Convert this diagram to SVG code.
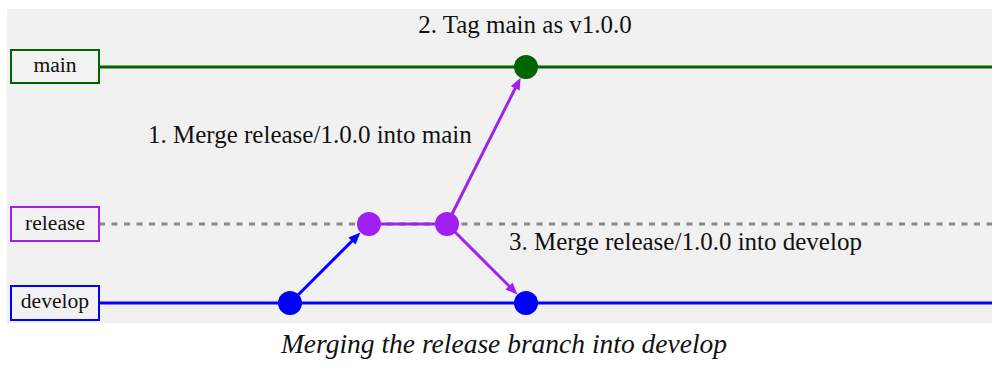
<svg xmlns="http://www.w3.org/2000/svg" width="992" height="368" viewBox="0 0 992 368">
<style>
  .lbl { font-family: "Liberation Serif", "Times New Roman", serif; font-size: 21.6px; fill: #111; text-anchor: middle; }
  .note { font-family: "Liberation Serif", "Times New Roman", serif; font-size: 25px; fill: #111; }
  .cap { font-family: "Liberation Serif", "Times New Roman", serif; font-size: 27.5px; font-style: italic; fill: #111; text-anchor: middle; }
  .box { fill: #f2f2f2; stroke-width: 2; }
  .branch { fill: none; stroke-width: 3; }
  .conn { fill: none; stroke-width: 3; }
</style>
<defs>
  <marker id="ahBlue" markerUnits="userSpaceOnUse" markerWidth="12" markerHeight="10" refX="4" refY="5" orient="auto">
    <path d="M0,0 L12,5 L0,10 z" fill="#0000ff"/>
  </marker>
  <marker id="ahPurple" markerUnits="userSpaceOnUse" markerWidth="12" markerHeight="10" refX="4" refY="5" orient="auto">
    <path d="M0,0 L12,5 L0,10 z" fill="#a020f0"/>
  </marker>
</defs>
<rect x="7" y="9" width="985" height="314" fill="#f1f1f1"/>

<g id="branches">
  <line class="branch" x1="99" y1="67" x2="992" y2="67" stroke="#006400"/>
  <line class="branch" x1="99" y1="224" x2="992" y2="224" stroke="#888888" stroke-dasharray="6 6.5"/>
  <line class="branch" x1="99" y1="303" x2="992" y2="303" stroke="#0000ff"/>
</g>

<g id="label-main">
  <rect class="box" x="11" y="50" width="88" height="33" stroke="#006400"/>
  <text class="lbl" x="55" y="72">main</text>
</g>
<g id="label-release">
  <rect class="box" x="11" y="207" width="88" height="34" stroke="#a020f0"/>
  <text class="lbl" x="55" y="230">release</text>
</g>
<g id="label-develop">
  <rect class="box" x="11" y="286" width="88" height="34" stroke="#0000ff"/>
  <text class="lbl" x="55" y="308">develop</text>
</g>

<g id="connectors">
  <line class="conn" x1="290" y1="303" x2="354.8" y2="238.2" stroke="#0000ff" marker-end="url(#ahBlue)"/>
  <line class="conn" x1="369" y1="224" x2="447" y2="224" stroke="#a020f0"/>
  <line class="conn" x1="447" y1="224" x2="517" y2="84.8" stroke="#a020f0" marker-end="url(#ahPurple)"/>
  <line class="conn" x1="447" y1="224" x2="511.8" y2="288.8" stroke="#a020f0" marker-end="url(#ahPurple)"/>
</g>

<g id="commit-develop-1"><circle cx="290" cy="303" r="12" fill="#0000ff"/></g>
<g id="commit-release-1"><circle cx="369" cy="224" r="12" fill="#a020f0"/></g>
<g id="commit-release-2"><circle cx="447" cy="224" r="12" fill="#a020f0"/></g>
<g id="commit-main-1"><circle cx="526" cy="67" r="12" fill="#006400"/></g>
<g id="commit-develop-2"><circle cx="526" cy="303" r="12" fill="#0000ff"/></g>

<g id="notes">
  <text class="note" x="525" y="33" text-anchor="middle">2. Tag main as v1.0.0</text>
  <text class="note" x="148" y="143">1. Merge release/1.0.0 into main</text>
  <text class="note" x="509" y="250">3. Merge release/1.0.0 into develop</text>
</g>

<text class="cap" x="504" y="353">Merging the release branch into develop</text>
</svg>
